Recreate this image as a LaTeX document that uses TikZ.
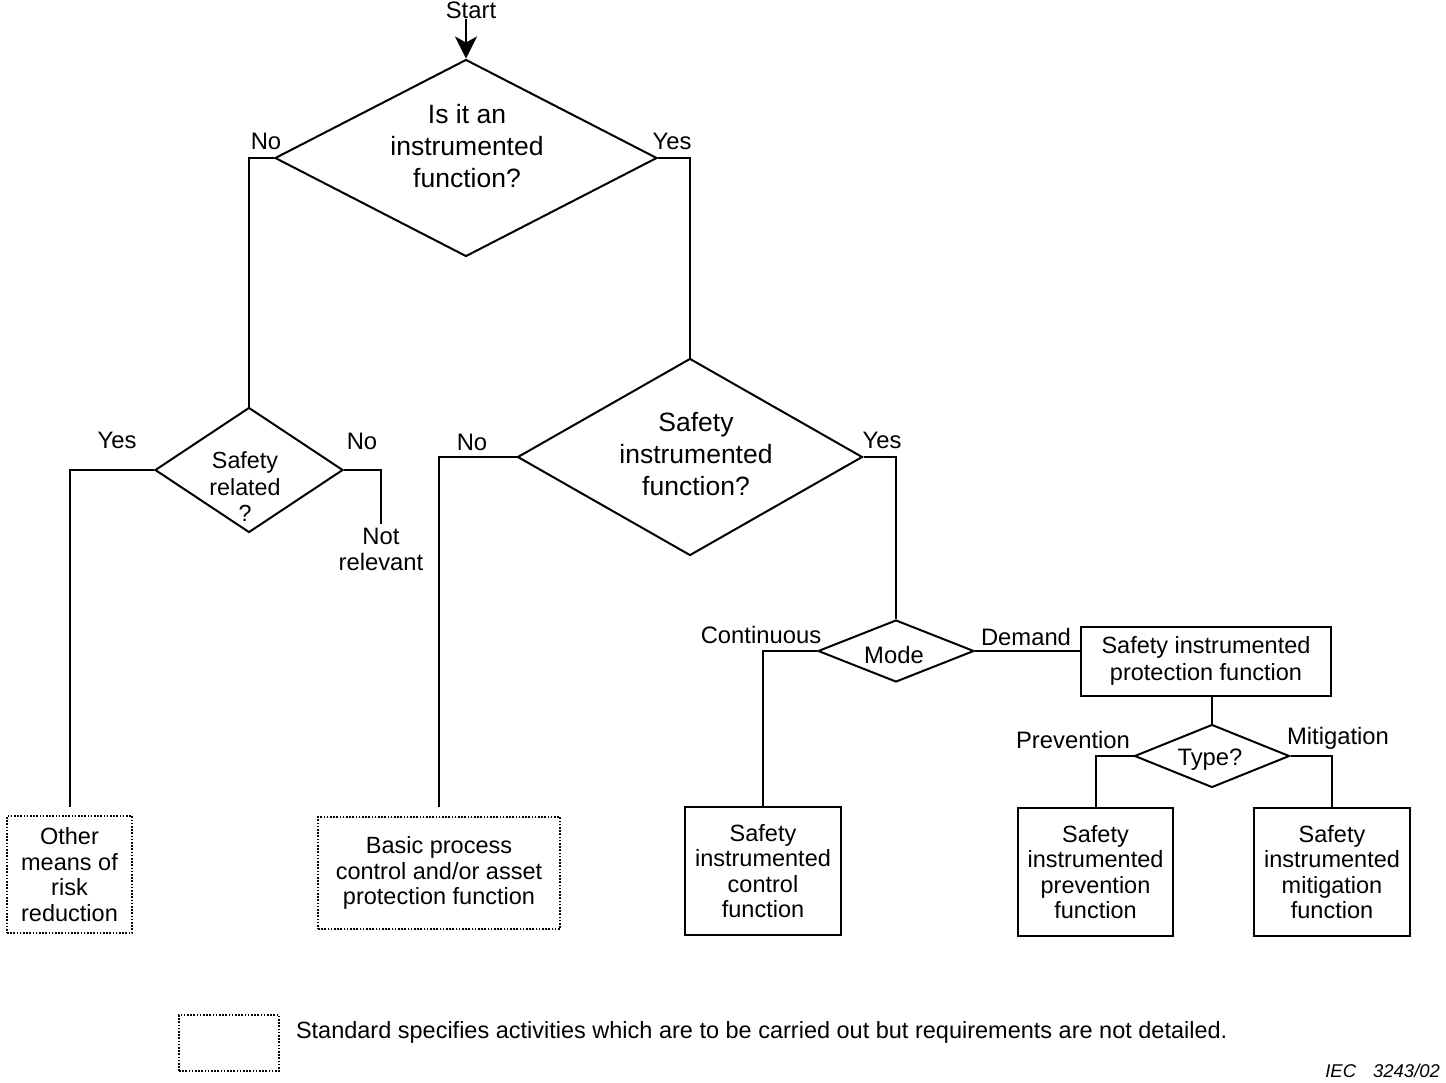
\documentclass[tikz,border=0pt]{standalone}
\usepackage{fontspec}
\setmainfont{Liberation Sans}
\usetikzlibrary{shapes.geometric,arrows.meta}
\begin{document}
\begin{tikzpicture}[x=1pt,y=-1pt,line width=2pt,
  dia/.style={draw,diamond,inner sep=0pt},
  txt/.style={inner sep=0pt,align=center,font=\fontsize{23.8}{26}\selectfont},
  big/.style={inner sep=0pt,align=center,font=\fontsize{26.5}{32}\selectfont},
  box/.style={draw,rectangle,inner sep=0pt,align=center,font=\fontsize{23.5}{25.5}\selectfont},
  dbox/.style={box,dash pattern=on 1.6pt off 1.6pt},
  conn/.style={line width=2pt}]
\useasboundingbox (0,0) rectangle (1446,1082);

% diamonds
\node[dia,minimum width=382pt,minimum height=197pt] (q1) at (466,158) {};
\node[big] (q1t) at (467,146) {Is it an\\instrumented\\function?};
\node[dia,minimum width=345pt,minimum height=197pt] (q2) at (690,457) {};
\node[big] (q2t) at (696,454) {Safety\\instrumented\\function?};
\node[dia,minimum width=188pt,minimum height=125pt] (sr) at (249,470) {};
\node[inner sep=0pt,align=center,font=\fontsize{23.3}{26.5}\selectfont] (srt) at (245,487) {Safety\\related\\?};
\node[dia,minimum width=156pt,minimum height=62pt] (mode) at (896,651) {};
\node[txt] (modet) at (894,655) {Mode};
\node[dia,minimum width=155pt,minimum height=63pt] (type) at (1212,756) {};
\node[txt] (typet) at (1210,760) {Type?};

% boxes
\node[dbox,minimum width=125pt,minimum height=117pt] (other) at (69.5,874.5) {Other\\means of\\risk\\reduction};
\node[dbox,minimum width=242pt,minimum height=112pt] (basic) at (439,873) {Basic process\\control and/or asset\\protection function};
\node[box,minimum width=156pt,minimum height=128pt] (sic) at (763,871) {Safety\\instrumented\\control\\function};
\node[box,minimum width=250pt,minimum height=69pt,font=\fontsize{23.5}{27}\selectfont] (prot) at (1206,661) {Safety instrumented\\protection function};
\node[box,minimum width=155pt,minimum height=128pt] (prev) at (1095.5,872) {Safety\\instrumented\\prevention\\function};
\node[box,minimum width=156pt,minimum height=128pt] (mitig) at (1332,872) {Safety\\instrumented\\mitigation\\function};

% labels
\node[txt] (start) at (471,10) {Start};
\node[txt] (l1) at (266,141) {No};
\node[txt] (l2) at (672,141) {Yes};
\node[txt] (l3) at (117,440) {Yes};
\node[txt] (l4) at (362,441) {No};
\node[txt] (notrel) at (381,549) {Not\\relevant};
\node[txt] (l5) at (472,442) {No};
\node[txt] (l6) at (882,440) {Yes};
\node[txt] (l7) at (761,635) {Continuous};
\node[txt] (l8) at (1026,637) {Demand};
\node[txt] (l9) at (1073,740) {Prevention};
\node[txt] (l10) at (1338,738) {Mitigation};

% legend
\node[dbox,minimum width=100pt,minimum height=56pt] (leg) at (229,1043) {};
\node[txt,anchor=west,font=\fontsize{23.5}{26}\selectfont] (legt) at (295,1032) {Standard specifies activities which are to be carried out but requirements are not detailed.};
\node[inner sep=0pt,anchor=east,font=\fontsize{18.5}{21}\selectfont\itshape] (iec) at (1441,1071) {IEC\hspace{17pt}3243/02};

% connectors
\draw[conn,-{Stealth[length=22pt,width=22pt,inset=6pt]}] (q1.north |- start.south) -- (q1.north);
\draw[conn] (q1.west) -| (sr.north);
\draw[conn] (q1.east) -| (q2.north);
\draw[conn,shorten >=8pt] (sr.west) -| (other.north);
\draw[conn,shorten >=3pt] (sr.east) -| (notrel.north);
\draw[conn,shorten >=9pt] (q2.west) -| (basic.north);
\draw[conn] (q2.east) -| (mode.north);
\draw[conn] (mode.west) -| (sic.north);
\draw[conn] (mode.east) -- (mode.east -| prot.west);
\draw[conn] (type.north |- prot.south) -- (type.north);
\draw[conn] (type.west) -| (prev.north);
\draw[conn] (type.east) -| (mitig.north);
\end{tikzpicture}
\end{document}
